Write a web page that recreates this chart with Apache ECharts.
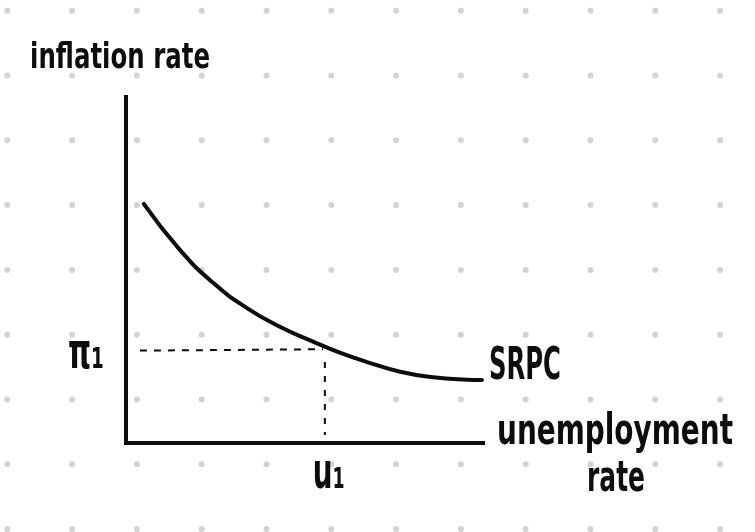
<!DOCTYPE html>
<html><head><meta charset="utf-8">
<script src="https://cdn.jsdelivr.net/npm/echarts@6/dist/echarts.min.js"></script>
<style>html,body{margin:0;padding:0;background:#fff}#c{width:755px;height:532px}</style>
</head><body><div id="c"></div>
<script>
// ---- data (axis units 0..100) ----
const srpcUnemployment = [5.0, 15.1, 24.4, 33.9, 43.1, 52.4, 59.9, 67.5, 76.8, 86.0, 95.5, 99.7];
const srpcInflation    = [69.1, 55.8, 46.3, 39.0, 33.6, 29.3, 26.1, 23.4, 20.6, 19.0, 18.3, 18.2];
const u1 = 55.7;
const pi1 = 26.7;
const guideHx = [3.9, 55.2];
const guideHy = [26.7, 27.1];
const guideVx = [55.7, 55.7];
const guideVy = [23.4, 2.3];
const axisNames = { y: 'inflation rate', x: 'unemployment', x2: 'rate' };
const markLabels = { pi: 'π₁', u: 'u₁', curve: 'SRPC' };

const chart = echarts.init(document.getElementById('c'), null, { renderer: 'canvas' });
const zip = (a, b) => a.map((v, i) => [v, b[i]]);

const INK = '#0d0d0d';
const FONT = '"DejaVu Sans", sans-serif';
const mctx = document.createElement('canvas').getContext('2d');
function fitScale(text, size, w) {
  mctx.font = 'bold ' + size + 'px "DejaVu Sans"';
  return w / mctx.measureText(text).width;
}
function label(text, size, left, midY, width) {
  return {
    type: 'text', x: left, y: midY, scaleX: fitScale(text, size, width), z: 10,
    style: { text: text, fill: INK, fontSize: size, fontWeight: 'bold', fontFamily: FONT,
             align: 'left', verticalAlign: 'middle' }
  };
}

// background dot grid
const dots = [];
for (let i = 0; i < 12; i++) {
  for (let j = 0; j < 9; j++) {
    dots.push({ type: 'circle', silent: true, z: -10,
      shape: { cx: 7.3 + 64.8 * i, cy: 10.7 + 64.8 * j, r: 3 },
      style: { fill: '#d3d3d3' } });
  }
}

const axisCommon = {
  type: 'value', min: 0, max: 100,
  splitLine: { show: false }, axisTick: { show: false }, axisLabel: { show: false },
  axisLine: { show: true, onZero: false, lineStyle: { color: INK, width: 4, cap: 'square' } }
};

chart.setOption({
  animation: false,
  backgroundColor: '#ffffff',
  grid: { left: 126, top: 97, width: 357, height: 346, containLabel: false },
  xAxis: Object.assign({}, axisCommon),
  yAxis: Object.assign({}, axisCommon),
  series: [
    { name: markLabels.curve, type: 'line', smooth: 0.5, symbol: 'none', z: 5,
      data: zip(srpcUnemployment, srpcInflation),
      lineStyle: { color: INK, width: 4, cap: 'round' } },
    { type: 'line', symbol: 'none', data: zip(guideHx, guideHy), z: 4,
      lineStyle: { color: INK, width: 2, type: [7, 7] } },
    { type: 'line', symbol: 'none', data: zip(guideVx, guideVy), z: 4,
      lineStyle: { color: INK, width: 2, type: [6, 8] } }
  ],
  graphic: dots
});

const pPi = chart.convertToPixel({ gridIndex: 0 }, [0, pi1]);
const pU = chart.convertToPixel({ gridIndex: 0 }, [u1, 0]);
const pEnd = chart.convertToPixel({ gridIndex: 0 }, [srpcUnemployment[srpcUnemployment.length - 1], srpcInflation[srpcInflation.length - 1]]);
const pTop = chart.convertToPixel({ gridIndex: 0 }, [0, 100]);
const pRight = chart.convertToPixel({ gridIndex: 0 }, [100, 0]);

chart.setOption({
  graphic: dots.concat([
    label(axisNames.y, 36, pTop[0] - 96, pTop[1] - 38, 180),
    label(markLabels.pi, 50, pPi[0] - 58, pPi[1] + 4, 36),
    label(markLabels.u, 50, pU[0] - 12, pU[1] + 32, 32),
    label(markLabels.curve, 44, pEnd[0] + 7, pEnd[1] - 12, 72),
    label(axisNames.x, 42, pRight[0] + 14, pRight[1] - 10, 236),
    label(axisNames.x2, 42, pRight[0] + 104, pRight[1] + 37, 58)
  ])
});
</script></body></html>
